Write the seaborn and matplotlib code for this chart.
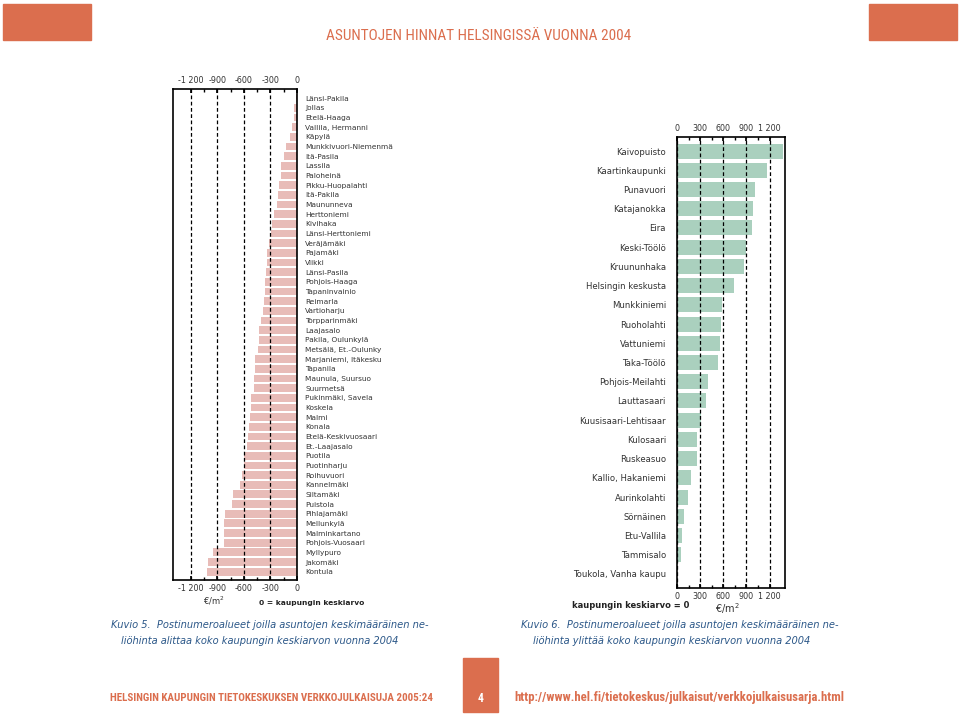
import matplotlib
matplotlib.use("Agg")
import matplotlib.pyplot as plt
from matplotlib.patches import Rectangle
from matplotlib.ticker import FixedLocator, FuncFormatter
import pandas as pd
import seaborn as sns

# postal code areas below the city average (difference, EUR/m2)
below_areas = [
    "Länsi-Pakila", "Jollas", "Etelä-Haaga", "Vallila, Hermanni", "Käpylä",
    "Munkkivuori-Niemenmä", "Itä-Pasila", "Lassila", "Paloheinä", "Pikku-Huopalahti",
    "Itä-Pakila", "Maununneva", "Herttoniemi", "Kivihaka", "Länsi-Herttoniemi",
    "Veräjämäki", "Pajamäki", "Viikki", "Länsi-Pasila", "Pohjois-Haaga",
    "Tapaninvainio", "Reimarla", "Vartioharju", "Torpparinmäki", "Laajasalo",
    "Pakila, Oulunkylä", "Metsälä, Et.-Oulunky", "Marjaniemi, Itäkesku", "Tapanila",
    "Maunula, Suursuo", "Suurmetsä", "Pukinmäki, Savela", "Koskela", "Malmi", "Konala",
    "Etelä-Keskivuosaari", "Et.-Laajasalo", "Puotila", "Puotinharju", "Roihuvuori",
    "Kannelmäki", "Siltamäki", "Puistola", "Pihlajamäki", "Mellunkylä",
    "Malminkartano", "Pohjois-Vuosaari", "Myllypuro", "Jakomäki", "Kontula",
]
below_values = [
    -15, -30, -38, -53, -76, -125, -144, -182, -182, -198,
    -220, -224, -258, -277, -289, -315, -342, -342, -350, -361,
    -365, -376, -380, -410, -429, -429, -437, -471, -471, -486,
    -486, -524, -524, -532, -543, -551, -570, -593, -600, -619,
    -638, -722, -730, -813, -821, -828, -828, -950, -1007, -1018,
]

# postal code areas above the city average
above_areas = [
    "Kaivopuisto", "Kaartinkaupunki", "Punavuori", "Katajanokka", "Eira",
    "Keski-Töölö", "Kruununhaka", "Helsingin keskusta", "Munkkiniemi", "Ruoholahti",
    "Vattuniemi", "Taka-Töölö", "Pohjois-Meilahti", "Lauttasaari",
    "Kuusisaari-Lehtisaar", "Kulosaari", "Ruskeasuo", "Kallio, Hakaniemi",
    "Aurinkolahti", "Sörnäinen", "Etu-Vallila", "Tammisalo", "Toukola, Vanha kaupu",
]
above_values = [
    1380, 1165, 1016, 981, 972, 898, 867, 736, 587, 565,
    552, 534, 403, 372, 315, 254, 254, 175, 140, 92, 61, 53, 2,
]

left_ticks = [-1200, -900, -600, -300, 0]
left_minor = [-1050, -750, -450, -150]
right_ticks = [0, 300, 600, 900, 1200]
right_minor = [150, 450, 750, 1050]

PINK = "#E8BCB8"
GREEN = "#AAD0BE"
ORANGE = "#DB6E4E"
BLUE = "#2B5788"
TXT = "#333333"
W, H = 960, 715


def fx(x):
    return x / W


def fy(y):
    return 1 - y / H


def fmt(v, pos):
    s = f"{abs(v):,.0f}".replace(",", " ")
    return ("-" if v < 0 else "") + s


def style_axis(ax, major, minor):
    ax.xaxis.set_major_locator(FixedLocator(major))
    ax.xaxis.set_minor_locator(FixedLocator(minor))
    ax.xaxis.set_major_formatter(FuncFormatter(fmt))
    ax.tick_params(axis="x", which="both", top=True, bottom=True,
                   labeltop=True, labelbottom=True, direction="in",
                   color="black", labelcolor=TXT)
    ax.tick_params(axis="x", which="major", length=3, labelsize=5.8, pad=3)
    ax.tick_params(axis="x", which="minor", length=2)
    for sp in ax.spines.values():
        sp.set_visible(True)
        sp.set_color("black")
        sp.set_linewidth(1.2)
    ax.grid(True, axis="x", which="major", color="black",
            linestyle=(0, (3, 2)), linewidth=0.9)
    ax.set_axisbelow(False)
    ax.set_xlabel("")
    ax.set_ylabel("")


sns.set_theme(style="white")
plt.rcParams["font.family"] = ["DejaVu Sans"]

fig = plt.figure(figsize=(9.6, 7.15), dpi=100)
fig.patch.set_facecolor("white")

# left chart: below average
ax1 = fig.add_axes([fx(173), fy(580), (297 - 173) / W, (580 - 89) / H])
df1 = pd.DataFrame({"area": below_areas, "diff": below_values})
sns.barplot(data=df1, x="diff", y="area", orient="h", color=PINK,
            saturation=1, width=0.82, linewidth=0, ax=ax1)
ax1.set_xlim(-1400, 0)
ax1.set_ylim(len(below_areas) - 1 + 0.85, -0.95)
style_axis(ax1, left_ticks, left_minor)
ax1.yaxis.tick_right()
ax1.tick_params(axis="y", length=0, labelsize=5.3, pad=6, labelcolor=TXT)

# right chart: above average
ax2 = fig.add_axes([fx(677), fy(588), (785 - 677) / W, (588 - 137) / H])
df2 = pd.DataFrame({"area": above_areas, "diff": above_values})
sns.barplot(data=df2, x="diff", y="area", orient="h", color=GREEN,
            saturation=1, width=0.78, linewidth=0, ax=ax2)
ax2.set_xlim(0, 1400)
ax2.set_ylim(len(above_areas) - 1 + 0.73, -0.73)
style_axis(ax2, right_ticks, right_minor)
ax2.tick_params(axis="y", length=0, labelsize=6.1, pad=8, labelcolor=TXT)

# unit and note texts
fig.text(fx(214), fy(601), "€/m$^2$", fontsize=6, color=TXT, ha="center", va="center")
fig.text(fx(312), fy(603), "0 = kaupungin keskiarvo", fontsize=5.4, color="#222222",
         fontweight="bold", ha="center", va="center")
fig.text(fx(631), fy(606), "kaupungin keskiarvo = 0", fontsize=6.0, color="#222222",
         fontweight="bold", ha="center", va="center")
fig.text(fx(727), fy(609), "€/m$^2$", fontsize=7, color=TXT, ha="center", va="center")

# captions
cap = dict(fontsize=7.1, color=BLUE, style="italic", ha="center", va="center")
fig.text(fx(270), fy(625), "Kuvio 5.  Postinumeroalueet joilla asuntojen keskimääräinen ne-", **cap)
fig.text(fx(260), fy(641), "liöhinta alittaa koko kaupungin keskiarvon vuonna 2004", **cap)
fig.text(fx(680), fy(625), "Kuvio 6.  Postinumeroalueet joilla asuntojen keskimääräinen ne-", **cap)
fig.text(fx(672), fy(641), "liöhinta ylittää koko kaupungin keskiarvon vuonna 2004", **cap)

# header
for x0, x1 in [(3, 91), (869, 957)]:
    fig.patches.append(Rectangle((fx(x0), fy(40)), (x1 - x0) / W, 36 / H,
                                 transform=fig.transFigure, color=ORANGE, zorder=0))
narrow = ["Roboto Condensed", "Roboto", "DejaVu Sans"]
fig.text(fx(479), fy(36), "ASUNTOJEN HINNAT HELSINGISSÄ VUONNA 2004",
         fontsize=11, color=ORANGE, family=narrow, ha="center", va="center")

# footer
fig.patches.append(Rectangle((fx(463), fy(712)), 35 / W, (712 - 658) / H,
                             transform=fig.transFigure, color=ORANGE, zorder=0))
fig.text(fx(480.5), fy(698), "4", fontsize=8.5, color="white", fontweight="bold",
         family=narrow, ha="center", va="center")
fig.text(fx(272), fy(698), "HELSINGIN KAUPUNGIN TIETOKESKUKSEN VERKKOJULKAISUJA 2005:24",
         fontsize=7.9, color=ORANGE, fontweight="bold", family=narrow, ha="center", va="center")
fig.text(fx(679), fy(698), "http://www.hel.fi/tietokeskus/julkaisut/verkkojulkaisusarja.html",
         fontsize=9.2, color=ORANGE, fontweight="bold", family=narrow, ha="center", va="center")

fig.savefig("out.png", dpi=100)
